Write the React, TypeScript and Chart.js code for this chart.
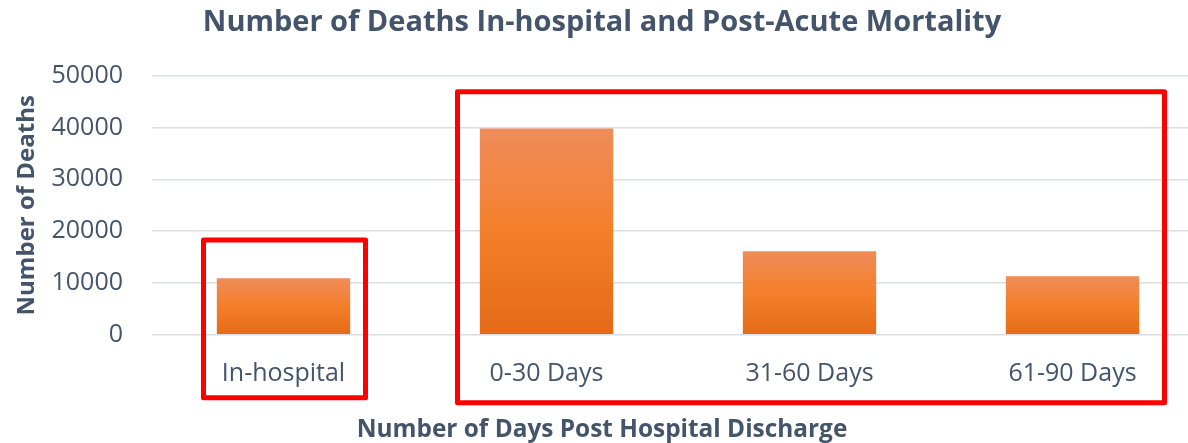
import React, { useEffect, useRef } from "react";
import { Chart, registerables } from "chart.js";

Chart.register(...registerables);

const categories = ["In-hospital", "0-30 Days", "31-60 Days", "61-90 Days"];
const deaths = [10900, 39800, 16100, 11300];
const yTicks = [0, 10000, 20000, 30000, 40000, 50000];

const TEXT = "#44546A";
const FONT = "'Open Sans'";

const boxesPlugin = {
  id: "redBoxes",
  afterDatasetsDraw(chart: any) {
    const { ctx, scales } = chart;
    const x = scales.x;
    const y = scales.y;
    const draw = (l: number, t: number, r: number, b: number) => {
      ctx.save();
      ctx.strokeStyle = "#FF0000";
      ctx.lineWidth = 5;
      ctx.lineJoin = "round";
      ctx.strokeRect(l, t, r - l, b - t);
      ctx.restore();
    };
    const base = y.getPixelForValue(0);
    draw(x.getPixelForValue(0) - 80, y.getPixelForValue(18300), x.getPixelForValue(0) + 82, base + 63);
    draw(x.getPixelForValue(1) - 89, y.getPixelForValue(46900), x.getPixelForValue(3) + 92, base + 68);
  },
};

export default function App() {
  const ref = useRef<HTMLCanvasElement>(null);
  useEffect(() => {
    document.body.style.margin = "0";
    document.body.style.overflow = "hidden";
    const chart = new Chart(ref.current!, {
      type: "bar",
      data: {
        labels: categories,
        datasets: [
          {
            data: deaths,
            barPercentage: 0.507,
            categoryPercentage: 1,
            backgroundColor: (c: any) => {
              const ys = c.chart.scales.y;
              if (!ys || c.raw == null) return "#F47F2A";
              const top = ys.getPixelForValue(c.raw);
              const bot = ys.getPixelForValue(0);
              if (!isFinite(top) || !isFinite(bot) || top === bot) return "#F47F2A";
              const g = c.chart.ctx.createLinearGradient(0, top, 0, bot);
              g.addColorStop(0, "#F08C5A");
              g.addColorStop(0.5, "#F47F2A");
              g.addColorStop(1, "#E46A18");
              return g;
            },
          },
        ],
      },
      options: {
        animation: false,
        responsive: false,
        maintainAspectRatio: false,
        layout: { padding: 0 },
        plugins: {
          legend: { display: false },
          tooltip: { enabled: false },
          title: {
            display: true,
            text: "Number of Deaths In-hospital and Post-Acute Mortality",
            color: TEXT,
            font: { family: FONT, size: 29, weight: "bold" },
            padding: { top: 5, bottom: 36 },
          },
          subtitle: {
            display: true,
            position: "bottom",
            text: "Number of Days Post Hospital Discharge",
            color: TEXT,
            font: { family: FONT, size: 24.4, weight: "bold" },
            padding: { top: 0, bottom: -2 },
          },
        },
        scales: {
          x: {
            grid: { display: false, drawTicks: false },
            border: { display: false },
            ticks: {
              color: TEXT,
              font: { family: FONT, size: 25 },
              padding: 24,
              maxRotation: 0,
            },
            afterFit: (s: any) => {
              s.height = 81;
            },
          },
          y: {
            min: 0,
            max: 50000,
            afterBuildTicks: (s: any) => {
              s.ticks = yTicks.map((v) => ({ value: v }));
            },
            grid: { color: "#D9DDE2", lineWidth: 1.5, drawTicks: false },
            border: { display: false },
            ticks: {
              color: TEXT,
              font: { family: FONT, size: 25 },
              padding: 29,
              callback: (v: any) => String(v),
            },
            title: {
              display: true,
              text: "Number of Deaths",
              color: TEXT,
              font: { family: FONT, size: 24, weight: "bold" },
              padding: { top: 13, bottom: 0 },
            },
            afterFit: (s: any) => {
              s.width = 152;
            },
          },
        },
      },
      plugins: [boxesPlugin],
    });
    return () => chart.destroy();
  }, []);
  return (
    <div style={{ position: "fixed", left: 0, top: 0, width: 1188, height: 443, overflow: "hidden", background: "#fff" }}>
      <canvas ref={ref} width={1204} height={443} style={{ width: 1204, height: 443, display: "block" }} />
    </div>
  );
}
